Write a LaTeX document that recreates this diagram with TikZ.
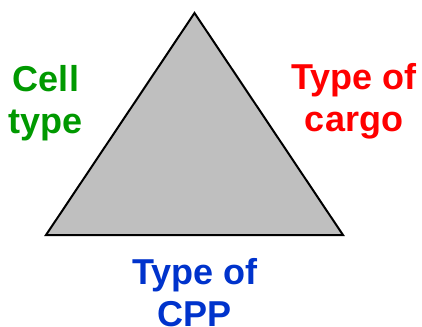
\documentclass[tikz,border=0pt]{standalone}
\usepackage{fontspec}
\setmainfont{Liberation Sans}
\usepackage{tikz}

\begin{document}
\begin{tikzpicture}[
    x=1pt, y=-1pt,
    label/.style={font=\fontsize{36}{42}\selectfont\bfseries, align=center, inner sep=0pt, anchor=base},
    face/.style={draw=black, line width=2pt, line join=miter, fill=gray!50}
]
\useasboundingbox (0,0) rectangle (422,326);

% Triangle corners
\coordinate (top) at (194.5,13);
\coordinate (left) at (46,235);
\coordinate (right) at (343,235);
\draw[face] (top) -- (right) -- (left) -- cycle;

% Labels
\node[label, text={rgb,255:red,0;green,153;blue,0}] (cell) at (46,133) {Cell\\type};
\node[label, text=red] (cargo) at (354,131) {Type of\\cargo};
\node[label, text={rgb,255:red,0;green,51;blue,204}] (cpp) at (195,326) {Type of\\CPP};

\end{tikzpicture}
\end{document}
